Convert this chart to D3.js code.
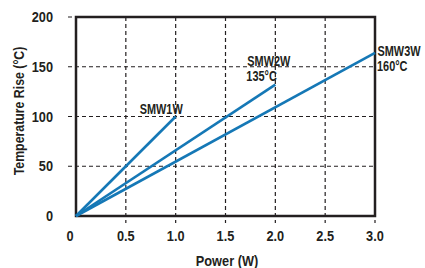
<!DOCTYPE html>
<html><head><meta charset="utf-8">
<script src="https://cdn.jsdelivr.net/npm/d3@7"></script>
<style>
body{margin:0;background:#fff;}
text{font-family:"Liberation Sans","Arial",sans-serif;font-weight:bold;fill:#231f20;}
</style></head>
<body><svg id="c" width="425" height="268"></svg>
<script>
const xTicks = [0, 0.5, 1.0, 1.5, 2.0, 2.5, 3.0];
const xTickLabels = ["0", "0.5", "1.0", "1.5", "2.0", "2.5", "3.0"];
const yTicks = [0, 50, 100, 150, 200];
const seriesNames = ["SMW1W", "SMW2W", "SMW3W"];
const seriesPower = [[0, 1.0], [0, 2.0], [0, 3.0]];
const seriesTemp = [[0, 100], [0, 132], [0, 164]];
const labelLines = [["SMW1W"], ["SMW2W", "135°C"], ["SMW3W", "160°C"]];

const svg = d3.select("#c");
const L = 76, R = 375, T = 17, B = 216;
const x = d3.scaleLinear().domain([0, 3]).range([L, R]);
const y = d3.scaleLinear().domain([0, 200]).range([B, T]);
const blue = "#1578b6";

// horizontally condense text by ratio
function condense(sel, ratio) {
  sel.each(function () {
    const w = this.getComputedTextLength();
    d3.select(this).attr("textLength", w * ratio).attr("lengthAdjust", "spacingAndGlyphs");
  });
}

// grid
svg.append("g").selectAll("line").data(yTicks.slice(1)).join("line")
  .attr("x1", L - 8).attr("x2", R).attr("y1", d => y(d)).attr("y2", d => y(d))
  .attr("stroke", "#231f20").attr("stroke-width", 1.2).attr("stroke-dasharray", "4,3");
svg.append("g").selectAll("line").data(xTicks.slice(1)).join("line")
  .attr("x1", d => x(d)).attr("x2", d => x(d)).attr("y1", T).attr("y2", B + 7)
  .attr("stroke", "#231f20").attr("stroke-width", 1.2).attr("stroke-dasharray", "4,3");

// frame
svg.append("rect").attr("x", L).attr("y", T).attr("width", R - L).attr("height", B - T)
  .attr("fill", "none").attr("stroke", "#231f20").attr("stroke-width", 2.5);

// lines
const line = d3.line().x(d => x(d[0])).y(d => y(d[1]));
seriesNames.forEach((n, i) => {
  const pts = seriesPower[i].map((p, j) => [p, seriesTemp[i][j]]);
  svg.append("path").datum(pts).attr("d", line)
    .attr("fill", "none").attr("stroke", blue).attr("stroke-width", 2.6);
});

// tick labels
svg.append("g").selectAll("text").data(yTicks).join("text")
  .attr("x", 53).attr("y", d => y(d)).attr("dy", "0.36em").attr("text-anchor", "end")
  .attr("font-size", 14.5).text(d => d).call(condense, 0.88);
svg.append("g").selectAll("text").data(xTicks).join("text")
  .attr("x", (d, i) => x(d) - (i === 0 ? 6 : 0)).attr("y", 241).attr("text-anchor", "middle")
  .attr("font-size", 14.5).text((d, i) => xTickLabels[i]).call(condense, 0.88);

// axis titles
svg.append("text").attr("x", 227).attr("y", 266).attr("text-anchor", "middle")
  .attr("font-size", 14.5).text("Power (W)").call(condense, 0.88);
svg.append("text").attr("transform", "translate(24,111) rotate(-90)").attr("text-anchor", "middle")
  .attr("font-size", 14.5).text("Temperature Rise (°C)").call(condense, 0.85);

// series labels (anchored at the end of each line, offsets in pixels), condensed via scale
const labelOffsets = [[[-36, -3]], [[-28, -18.5], [-29, -4]], [[2.5, 3.5], [2, 18]]];
labelLines.forEach((lines, i) => {
  const n = seriesPower[i].length - 1;
  const ex = x(seriesPower[i][n]), ey = y(seriesTemp[i][n]);
  lines.forEach((s, j) => {
    svg.append("text")
      .attr("transform", `translate(${ex + labelOffsets[i][j][0]},${ey + labelOffsets[i][j][1]}) scale(0.78,1)`)
      .attr("font-size", 14).text(s);
  });
});
</script></body></html>
